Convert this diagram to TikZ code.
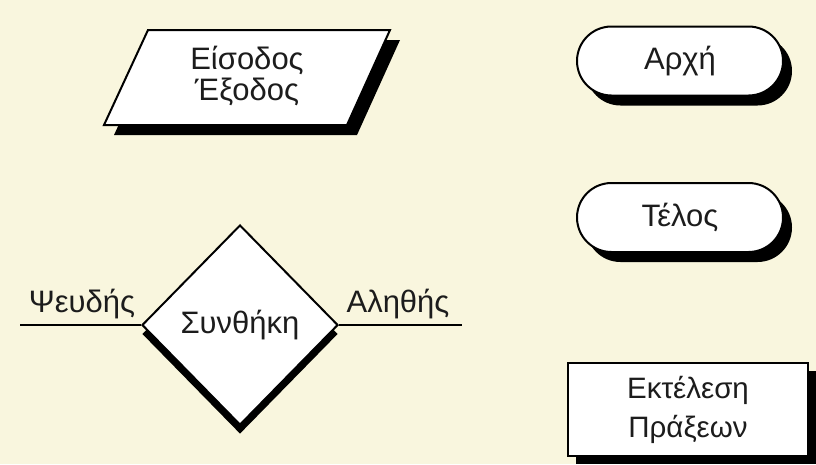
\documentclass[tikz,border=0pt]{standalone}
\usepackage{fontspec}
\setmainfont{Liberation Sans}
\usetikzlibrary{shapes.geometric,shadows}
\definecolor{paper}{RGB}{249,246,222}
\definecolor{ink}{RGB}{28,28,28}
\begin{document}
\begin{tikzpicture}[x=1pt,y=-1pt,
  every node/.style={font=\fontsize{31}{31}\selectfont, text=ink, align=center},
  outline/.style={draw=black, line width=2pt, fill=white},
  blackshadow/.style 2 args={general shadow={fill=black, shadow xshift=#1, shadow yshift=#2}},
  terminal/.style={outline, rectangle, rounded corners=34.5pt, minimum width=206pt, minimum height=69pt, inner sep=0pt},
  decision/.style={outline, diamond, minimum width=196pt, minimum height=200pt, inner sep=0pt},
  process/.style={outline, rectangle, minimum width=240pt, minimum height=93pt, inner sep=0pt,
    font=\fontsize{29.5}{39}\selectfont},
  branch/.style={draw=black, line width=2pt}]
% paper background
\fill[paper] (0,0) rectangle (816,464);
\useasboundingbox (0,0) rectangle (816,464);

% input / output parallelogram with its shadow
\fill[black] (158,40) -- (400,40) -- (357,135) -- (114,135) -- cycle;
\draw[outline] (148,30) -- (390,30) -- (347,125) -- (104,125) -- cycle;
\node (io) at (247,76) {Είσοδος\\Έξοδος};

% start and end terminals
\node[terminal, blackshadow={9pt}{-10pt}] (start) at (680,61) {Αρχή};
\node[terminal, blackshadow={9pt}{-10pt}] (stop) at (680,217.5) {Τέλος};

% decision
\node[decision, blackshadow={0pt}{-9pt}] (cond) at (240,325) {Συνθήκη};
\coordinate (falseend) at (20,325);
\coordinate (trueend) at (462,325);
\draw[branch] (cond.west) -- (falseend);
\draw[branch] (cond.east) -- (trueend);
\node (false) at (82,304) {Ψευδής};
\node (true) at (398,304) {Αληθής};

% process
\node[process, blackshadow={8pt}{-8pt}] (proc) at (688,409.5) {Εκτέλεση\\Πράξεων};
\end{tikzpicture}
\end{document}
